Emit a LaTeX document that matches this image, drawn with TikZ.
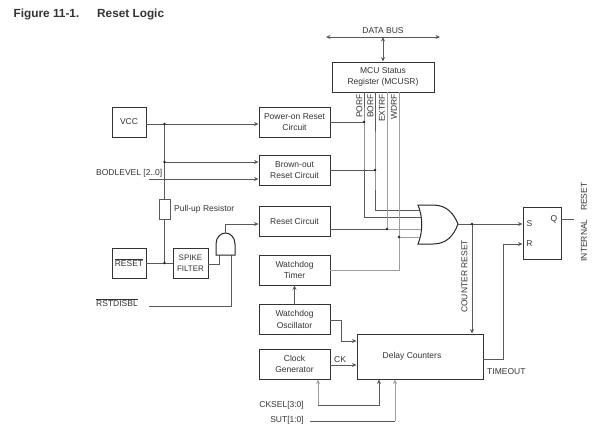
\documentclass[tikz,border=0pt]{standalone}
\usepackage{fontspec}
\setmainfont{Liberation Sans}
\usetikzlibrary{arrows.meta}
\definecolor{ln}{gray}{0.35}
\definecolor{lnl}{gray}{0.62}
\definecolor{tx}{gray}{0.2}
\tikzset{
  x=1pt,y=-1pt,
  blk/.style={draw=black!80,line width=0.9pt,fill=white,inner sep=0pt,align=center,text=tx,font=\fontsize{8.5}{11.5}\selectfont},
  lab/.style={inner sep=0pt,text=tx,font=\fontsize{8.5}{10}\selectfont},
  wire/.style={draw=ln,line width=0.7pt},
  wirel/.style={draw=lnl,line width=1pt},
  arr/.style={-{Stealth[length=4.5pt,width=4pt]}},
  barr/.style={{Stealth[length=4.5pt,width=4pt]}-{Stealth[length=4.5pt,width=4pt]}},
  dot/.style={circle,fill=black!85,inner sep=0pt,minimum size=2.6pt},
  gate/.style={draw=black!85,line width=1pt,fill=white},
  ttl/.style={inner sep=0pt,anchor=west,font=\fontsize{11.8}{13}\selectfont\bfseries,text=tx}
}
\newcommand{\blkat}[6]{\node[blk,minimum width=#3pt,minimum height=#4pt] (#5) at (#1,#2) {#6};}
\newcommand{\ovl}[1]{{\setbox0\hbox{#1}\rlap{\rule[7.5pt]{\wd0}{0.55pt}}\box0}}
\newcommand{\smf}{\fontsize{8}{11.5}\selectfont}
\begin{document}
\begin{tikzpicture}
\useasboundingbox (0,0) rectangle (598,434);
\node[ttl] (fig) at (13.5,14) {Figure 11-1.};
\node[ttl] (ttlb) at (97,14) {Reset Logic};
% blocks
\blkat{383}{77}{102}{30}{mcu}{MCU Status\\Register (MCUSR)}
\blkat{129}{122}{34}{30}{vcc}{VCC}
\blkat{294.5}{122}{71}{30}{pow}{Power-on Reset\\Circuit}
\blkat{294.5}{170}{71}{30}{bro}{Brown-out\\Reset Circuit}
\blkat{294.5}{221}{71}{30}{rst}{Reset Circuit}
\blkat{294.5}{270}{71}{30}{wdt}{Watchdog\\Timer}
\blkat{294.5}{319.5}{71}{29.5}{wdo}{Watchdog\\Oscillator}
\blkat{294.5}{364}{71}{30}{clk}{Clock\\Generator}
\blkat{129}{263}{34}{30}{res}{\ovl{RESET}}
\blkat{190.5}{263}{35}{30}{spk}{\smf SPIKE\\\smf FILTER}
\blkat{420}{356.5}{126}{45}{dly}{}
\node[blk,draw=none,fill=none] (dlyt) at (412,356) {Delay Counters};
\blkat{542}{233}{38}{52}{ff}{}
\node[draw=ln,line width=0.7pt,minimum width=11pt,minimum height=20pt,inner sep=0pt] (pull) at (164.5,209) {};
% labels
\node[lab] (dbus) at (383,31) {DATA BUS};
\coordinate (dbl) at (326,37); \coordinate (dbr) at (440,37);
\coordinate (dbm) at (383,37);
\node[lab,rotate=90,anchor=west] (lpor) at (359.5,118) {PORF};
\node[lab,rotate=90,anchor=west] (lbor) at (370.5,118) {BORF};
\node[lab,rotate=90,anchor=west] (lext) at (382,122) {EXTRF};
\node[lab,rotate=90,anchor=west] (lwdr) at (394,120) {WDRF};
\node[lab,anchor=west] (pul) at (174,209) {Pull-up Resistor};
\node[lab,anchor=west] (bod) at (96,173) {BODLEVEL [2..0]};
\node[lab,anchor=west] (rsd) at (96,303) {\ovl{RSTDISBL}};
\node[lab,anchor=west] (ckl) at (334,360) {CK};
\node[lab,anchor=east] (cks) at (304,405) {CKSEL[3:0]};
\node[lab,anchor=east] (sut) at (304,420) {SUT[1:0]};
\node[lab,anchor=west] (tmo) at (487,372) {TIMEOUT};
\node[lab,rotate=90,anchor=west] (crs) at (464.5,313) {COUNTER RESET};
\node[lab,rotate=90] (irs) at (584,222) {INTERNAL\hspace{6pt} RESET};
\node[lab] (ls) at (529.5,224) {S};
\node[lab] (lr) at (529.5,244) {R};
\node[lab] (lq) at (554,219) {Q};
% data bus
\draw[wire,barr] (dbl) -- (dbr);
\draw[wire,barr] (dbm) -- (mcu.north);
% junction coordinates
\coordinate (jv) at (164.5,124);
\coordinate (jb) at (164.5,162);
\coordinate (jr) at (164.5,263);
\coordinate (j1) at (364,122);
\coordinate (j2) at (375,170);
\coordinate (j3) at (387,229);
\coordinate (j4) at (399,237);
\coordinate (i1) at (421,217);
\coordinate (i2) at (420,210);
\coordinate (i3) at (421,229);
\coordinate (i4) at (420,237);
\coordinate (orout) at (458,224);
\coordinate (jc) at (472,224);
% status lines
\draw[wire] (mcu.south -| j1) -- (j1) -- (i1 -| j1) -- (i1);
\draw[wire] (mcu.south -| j2) -- (j2) -- (i2 -| j2) -- (i2);
\draw[wirel] (mcu.south -| j3) -- (j3) -- (i3);
\draw[wirel] (mcu.south -| j4) -- (j4) -- (i4);
\draw[wirel] (j4) -- (wdt.east -| j4) -- (wdt.east);
\draw[wire] (pow.east) -- (j1);
\draw[wire] (bro.east) -- (j2);
\draw[wire] (rst.east |- j3) -- (j3);
% OR gate
\draw[gate] (418,205) -- (433,205) .. controls (447,205) and (454,214) .. (orout)
  .. controls (454,235) and (447,244) .. (433,244) -- (418,244)
  .. controls (423,232) and (423,217) .. (418,205) -- cycle;
% inputs
\coordinate (vo) at (vcc.east |- jv);
\draw[wire] (vo) -- (jv);
\draw[wire,arr] (jv) -- (pow.west |- jv);
\draw[wire,arr] (jb) -- (bro.west |- jb);
\coordinate (bs) at (149,179);
\draw[wire,arr] (bs) -- (bro.west |- bs);
\draw[wire] (jv) -- (pull.north);
\draw[wire] (pull.south) -- (jr);
\draw[wire] (res.east) -- (spk.west);
% AND gate
\coordinate (and1) at (219,264);
\coordinate (and2) at (231,306);
\coordinate (andt) at (225.5,233);
\coordinate (ao) at (225.5,224);
\coordinate (rs0) at (149,306);
\draw[wire] (spk.east |- and1) -- (and1) -- (219,255);
\draw[wire] (rs0) -- (and2) -- (231,255);
\draw[gate] (216,255) -- (216,244) .. controls (216,237) and (221,233) .. (andt)
  .. controls (230,233) and (235,237) .. (235,244) -- (235,255) -- cycle;
\draw[wire,arr] (andt) -- (ao) -- (rst.west |- ao);
% lower left of delay
\draw[wire,arr] (wdo.north) -- (wdt.south);
\coordinate (o1) at (341,320);
\coordinate (o2) at (341,341);
\draw[wire,arr] (wdo.east |- o1) -- (o1) -- (o2) -- (dly.west |- o2);
\coordinate (ck) at (330,365);
\draw[wire,arr] (ck) -- (dly.west |- ck);
\coordinate (c1) at (318,405);
\coordinate (c2) at (379,405);
\coordinate (s1) at (310,421);
\coordinate (s2) at (395,421);
\draw[wirel,arr] (c1) -- (clk.south -| c1);
\draw[wire,arr] (c1) -- (c2) -- (dly.south -| c2);
\draw[wire] (s1) -- (s2);
\draw[wirel,arr] (s2) -- (dly.south -| s2);
% outputs
\coordinate (so) at (ff.west |- orout);
\draw[wire,arr] (orout) -- (so);
\draw[wire,arr] (jc) -- (dly.north -| jc);
\coordinate (t1) at (483,359);
\coordinate (t2) at (503.5,359);
\coordinate (t3) at (503.5,244);
\draw[wire,arr] (t1) -- (t2) -- (t3) -- (ff.west |- t3);
\coordinate (q1) at (561,219);
\coordinate (q2) at (574,219);
\draw[wire] (q1) -- (q2);
% dots
\node[dot] (d1) at (jv) {};
\node[dot] (d2) at (jb) {};
\node[dot] (d3) at (jr) {};
\node[dot] (d4) at (j1) {};
\node[dot] (d5) at (j2) {};
\node[dot] (d6) at (j3) {};
\node[dot] (d7) at (j4) {};
\node[dot] (d8) at (jc) {};
\end{tikzpicture}
\end{document}
